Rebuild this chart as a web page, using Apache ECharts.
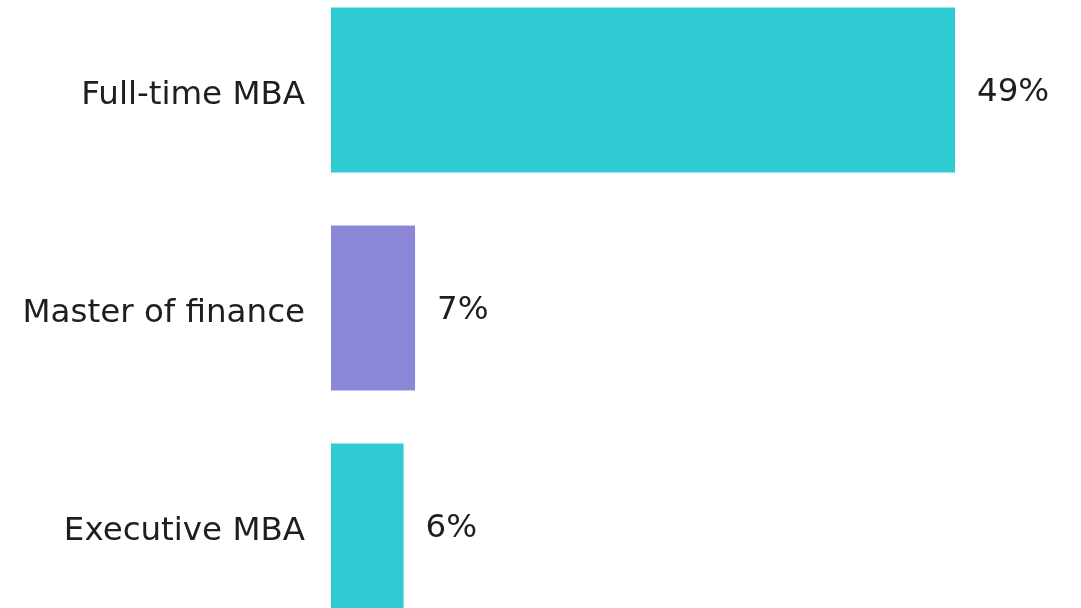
<!DOCTYPE html>
<html>
<head>
<meta charset="utf-8">
<script src="https://cdn.jsdelivr.net/npm/echarts@6/dist/echarts.min.js"></script>
<style>
  html, body { margin: 0; padding: 0; background: #fff; overflow: hidden; }
  /* the bands run past the top and bottom edge of the picture */
  #chart { position: absolute; left: 0; top: -19px; width: 1081px; height: 654px; }
</style>
</head>
<body>
<div id="chart"></div>
<script>
const programs = ["Full-time MBA", "Master of finance", "Executive MBA"]
const shares = [49, 6.6, 5.7]
const barColors = ["#2ecbd3", "#8c86d9", "#2ecbd3"]

const chart = echarts.init(document.getElementById("chart"))
chart.setOption({
  animation: false,
  grid: {left: 331, right: 126, top: 0, bottom: 0, containLabel: false},
  xAxis: {
    type: "value",
    min: 0,
    max: 49,
    show: false
  },
  yAxis: {
    type: "category",
    inverse: true,
    data: programs,
    axisLine: {show: false},
    axisTick: {show: false},
    splitLine: {show: false},
    axisLabel: {
      margin: 26,
      color: "#1e1e1e",
      fontFamily: "DejaVu Sans",
      fontSize: 32.5,
      // nudge the names a few px below the band centre, as in the picture
      verticalAlign: "top",
      lineHeight: 12
    }
  },
  series: [{
    type: "bar",
    barWidth: 165,
    data: shares.map((v, i) => ({value: v, itemStyle: {color: barColors[i]}})),
    label: {
      show: true,
      position: "right",
      distance: 22,
      offset: [0, 3],
      color: "#1e1e1e",
      fontFamily: "DejaVu Sans",
      fontSize: 32.5,
      formatter: p => Math.round(p.value) + "%"
    }
  }]
})
</script>
</body>
</html>
